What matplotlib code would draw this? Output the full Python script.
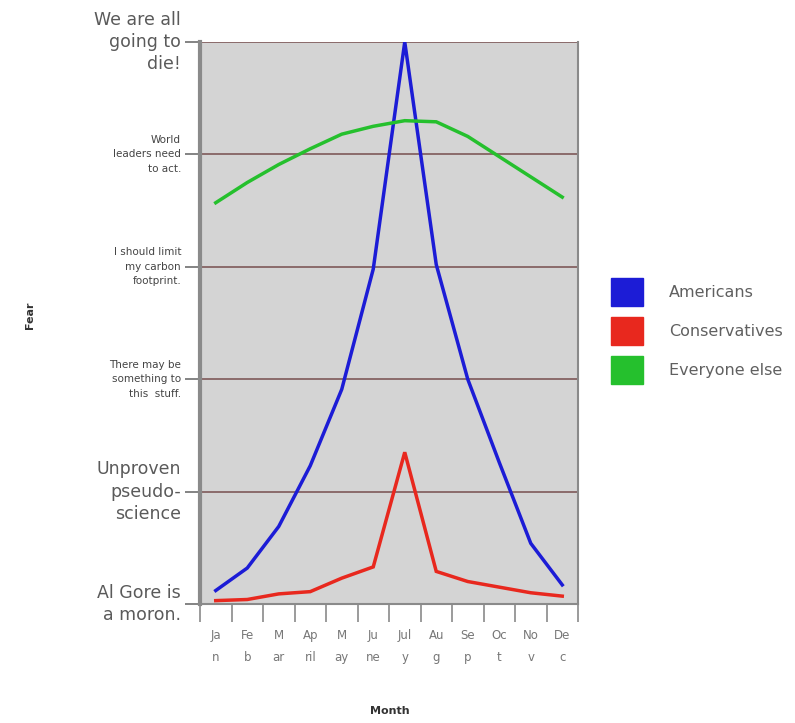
import matplotlib
matplotlib.use("Agg")
import matplotlib.pyplot as plt
from matplotlib.patches import Patch
import numpy as np

months = ["Ja\nn", "Fe\nb", "M\nar", "Ap\nril", "M\nay", "Ju\nne",
          "Jul\ny", "Au\ng", "Se\np", "Oc\nt", "No\nv", "De\nc"]
americans = [0.12, 0.32, 0.69, 1.23, 1.91, 2.98, 5.0, 3.02, 2.0, 1.26, 0.54, 0.17]
conservatives = [0.03, 0.04, 0.09, 0.11, 0.23, 0.33, 1.35, 0.29, 0.20, 0.15, 0.10, 0.07]
everyone = [3.57, 3.75, 3.91, 4.05, 4.18, 4.25, 4.30, 4.29, 4.16, 3.98, 3.80, 3.62]
fear_labels = ["Al Gore is\na moron.", "Unproven\npseudo-\nscience",
               "There may be\nsomething to\nthis  stuff.",
               "I should limit\nmy carbon\nfootprint.",
               "World\nleaders need\nto act.",
               "We are all\ngoing to\ndie!"]
series_names = ["Americans", "Conservatives", "Everyone else"]
colors = ["#1c1cd6", "#e8281e", "#25c02d"]

fig = plt.figure(figsize=(7.95, 7.23), dpi=100)
ax = fig.add_axes([200/795, 1-604/723, 378/795, 562/723])
ax.set_facecolor("#d4d4d4")

x = np.arange(len(months))
for vals, c in zip([americans, conservatives, everyone], colors):
    ax.plot(x, vals, color=c, lw=2.5, solid_joinstyle="miter", zorder=3)

ax.set_xlim(-0.5, len(months) - 0.5)
ax.set_ylim(0, 5)

# horizontal gridlines
ax.set_yticks(range(len(fear_labels)))
ax.yaxis.grid(True, color="#8a6b6b", lw=1.4)
ax.set_axisbelow(True)
ax.set_yticklabels([])
ax.tick_params(axis="y", length=11, width=1.2, color="#6e6e6e", pad=2)
for i, lab in enumerate(fear_labels):
    big = i in (0, 1, 5)
    ax.text(-0.05, i, lab, transform=ax.get_yaxis_transform(),
            ha="right", va="center", fontsize=12.5 if big else 7.5,
            color="#5a5a5a" if big else "#444444",
            linespacing=1.3 if big else 1.55)

# x ticks at boundaries, labels at centers
ax.set_xticks(np.arange(-0.5, len(months), 1.0))
ax.set_xticklabels([])
ax.tick_params(axis="x", length=13, width=1.2, color="#8a8a8a")
for i, m in enumerate(months):
    ax.text(i, -0.22, m, ha="center", va="top", fontsize=8.5,
            color="#777777", linespacing=1.9, transform=ax.transData)

for side in ["left", "right", "bottom", "top"]:
    ax.spines[side].set_color("#8a8a8a")
ax.spines["left"].set_linewidth(3)
ax.spines["right"].set_linewidth(1.5)
ax.spines["bottom"].set_linewidth(1.5)
ax.spines["top"].set_visible(False)

fig.text(30/795, 1-315/723, "Fear", rotation=90, ha="center", va="center",
         fontsize=8, fontweight="bold", color="#333333")
fig.text(390/795, 1-711/723, "Month", ha="center", va="center",
         fontsize=8, fontweight="bold", color="#333333")

handles = [Patch(facecolor=c, edgecolor=c) for c in colors]
fig.legend(handles, series_names, loc="center left",
           bbox_to_anchor=(597/795, 1-331/723), frameon=False,
           handlelength=2.0, handleheight=2.3, labelspacing=0.7,
           handletextpad=1.6, fontsize=11.5, labelcolor="#606060")

fig.savefig("out.png", dpi=100, facecolor="white")
